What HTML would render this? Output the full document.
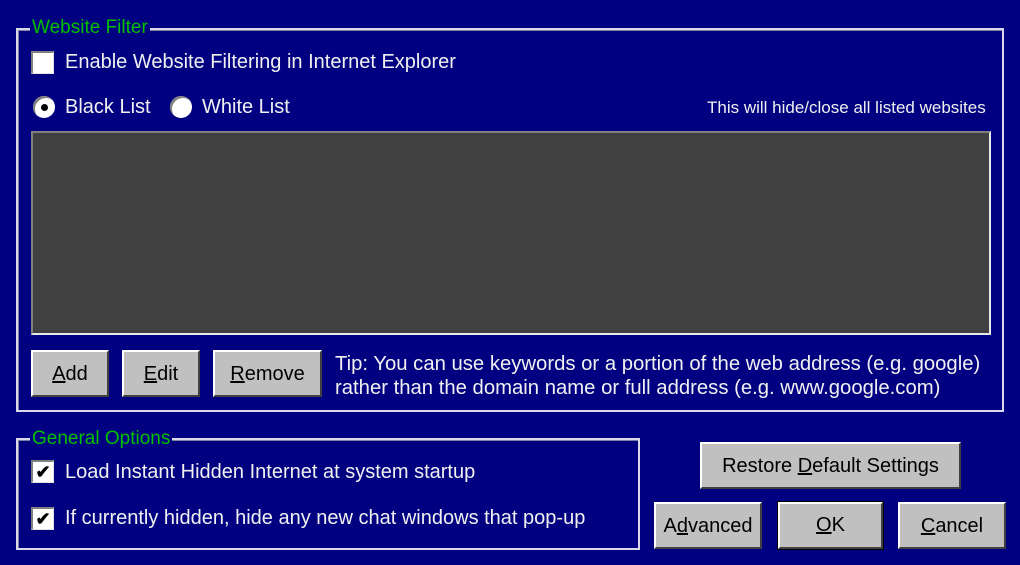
<!DOCTYPE html>
<html><head><meta charset="utf-8"><style>
body{margin:0;width:1020px;height:565px;background:#000080;position:relative;overflow:hidden;font-family:"Liberation Sans",sans-serif;color:#f0f0f0}
.a{position:absolute;white-space:nowrap}
.frame{position:absolute;border:2px solid #d8d8e8;box-shadow:inset 1px 1px 0 #8080a0}
.lbl{position:absolute;background:#000080;color:#00c000;font-size:19px;padding:0 2px;line-height:20px}
.chk{position:absolute;width:20px;height:20px;background:#fff;border-top:2px solid #808080;border-left:2px solid #808080;border-right:1px solid #e0e0e0;border-bottom:1px solid #e0e0e0;color:#000;font-size:18px;font-weight:bold;line-height:20px;text-align:center}
.rad{position:absolute;width:22px;height:22px;border-radius:50%;background:#fff;box-shadow:inset 2px 2px 0 #808080}
.btn{position:absolute;background:#c0c0c0;border-top:2px solid #fff;border-left:2px solid #fff;border-right:2px solid #404040;border-bottom:2px solid #404040;box-sizing:border-box;color:#000;font-size:20px;text-align:center}
.t{font-size:20px}
</style></head><body>
<div class="frame" style="left:16px;top:28px;width:984px;height:380px"></div>
<div class="lbl" style="left:30px;top:18px">Website Filter</div>
<div class="chk" style="left:31px;top:51px"></div>
<div class="a t" style="left:65px;top:51px">Enable Website Filtering in Internet Explorer</div>
<div class="rad" style="left:33px;top:96px"><div style="position:absolute;left:8px;top:8px;width:7px;height:7px;border-radius:50%;background:#000"></div></div>
<div class="a t" style="left:65px;top:96px">Black List</div>
<div class="rad" style="left:170px;top:96px"></div>
<div class="a t" style="left:202px;top:96px">White List</div>
<div class="a" style="left:707px;top:98px;font-size:17px">This will hide/close all listed websites</div>
<div style="position:absolute;left:31px;top:131px;width:956px;height:200px;background:#404040;border-top:2px solid #808080;border-left:2px solid #808080;border-right:2px solid #e8e8e8;border-bottom:2px solid #e8e8e8"></div>
<div class="btn" style="left:31px;top:350px;width:78px;height:47px;line-height:45px"><u>A</u>dd</div>
<div class="btn" style="left:122px;top:350px;width:78px;height:47px;line-height:45px"><u>E</u>dit</div>
<div class="btn" style="left:213px;top:350px;width:109px;height:47px;line-height:45px"><u>R</u>emove</div>
<div class="a" style="left:335px;top:352px;font-size:20.3px;line-height:24px">Tip: You can use keywords or a portion of the web address (e.g. google)<br>rather than the domain name or full address (e.g. www.google.com)</div>
<div class="frame" style="left:16px;top:438px;width:620px;height:108px"></div>
<div class="lbl" style="left:30px;top:429px">General Options</div>
<div class="chk" style="left:31px;top:460px">✔</div>
<div class="a t" style="left:65px;top:461px">Load Instant Hidden Internet at system startup</div>
<div class="chk" style="left:31px;top:507px">✔</div>
<div class="a t" style="left:65px;top:507px">If currently hidden, hide any new chat windows that pop-up</div>
<div class="btn" style="left:700px;top:442px;width:261px;height:47px;line-height:45px">Restore <u>D</u>efault Settings</div>
<div class="btn" style="left:654px;top:502px;width:108px;height:47px;line-height:45px">A<u>d</u>vanced</div>
<div class="btn" style="left:778px;top:502px;width:105px;height:47px;line-height:43px;outline:1px solid #000"><u>O</u>K</div>
<div class="btn" style="left:898px;top:502px;width:108px;height:47px;line-height:45px"><u>C</u>ancel</div>
</body></html>
